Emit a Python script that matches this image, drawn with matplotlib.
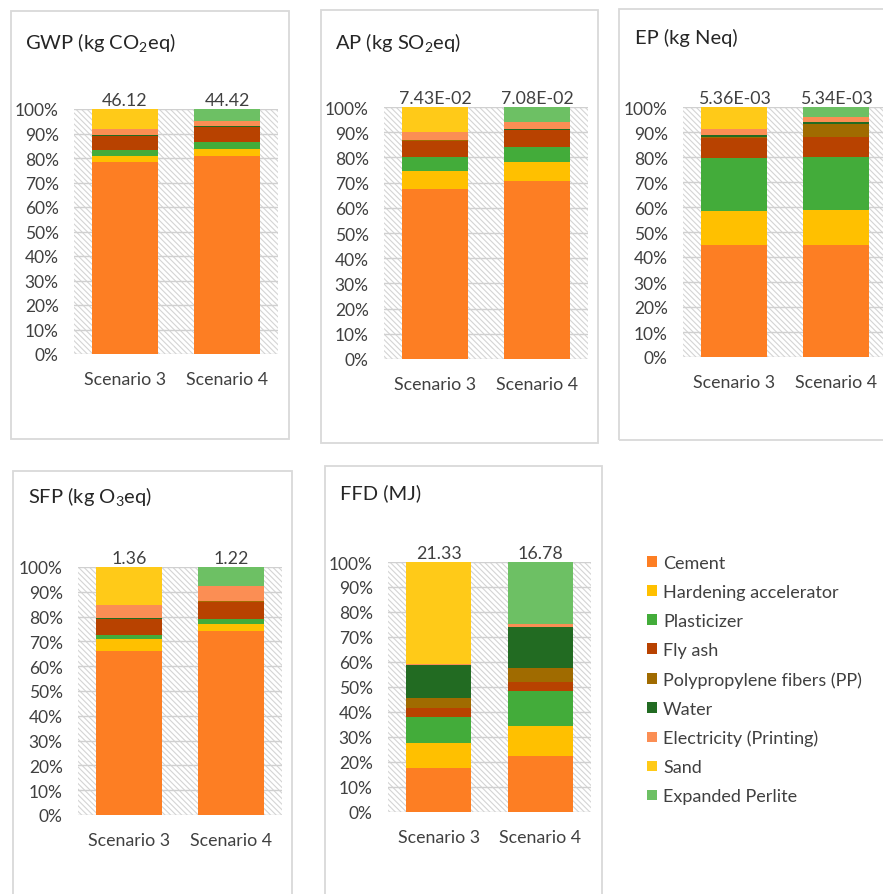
#!/usr/bin/env python3
import matplotlib

matplotlib.use("Agg")
import matplotlib.pyplot as plt
import numpy as np
from matplotlib.patches import Patch, Rectangle

# contribution (%) of each component, scenario 3 / scenario 4
components = [
    "Cement",
    "Hardening accelerator",
    "Plasticizer",
    "Fly ash",
    "Polypropylene fibers (PP)",
    "Water",
    "Electricity (Printing)",
    "Sand",
    "Expanded Perlite",
]
scenarios = ["Scenario 3", "Scenario 4"]

gwp_s3 = [78.2, 2.5, 2.4, 5.7, 0.2, 0.2, 2.5, 8.3, 0.0]
gwp_s4 = [81.0, 2.7, 2.7, 6.1, 0.2, 0.2, 2.3, 0.0, 4.8]
ap_s3 = [67.6, 7.2, 5.4, 6.3, 0.3, 0.3, 2.8, 10.1, 0.0]
ap_s4 = [70.8, 7.5, 5.8, 6.7, 0.2, 0.2, 2.9, 0.0, 5.9]
ep_s3 = [44.8, 13.6, 21.1, 8.2, 0.4, 0.8, 2.4, 8.7, 0.0]
ep_s4 = [44.8, 14.1, 21.1, 8.0, 5.1, 0.9, 2.1, 0.0, 3.9]
sfp_s3 = [66.1, 4.7, 1.9, 6.2, 0.3, 0.2, 5.3, 15.3, 0.0]
sfp_s4 = [74.0, 3.0, 1.9, 7.0, 0.3, 0.2, 5.8, 0.0, 7.8]
ffd_s3 = [17.8, 9.7, 10.7, 3.3, 4.0, 13.3, 0.3, 40.9, 0.0]
ffd_s4 = [22.5, 11.9, 14.1, 3.6, 5.7, 16.4, 0.9, 0.0, 24.9]

totals_gwp = ["46.12", "44.42"]
totals_ap = ["7.43E-02", "7.08E-02"]
totals_ep = ["5.36E-03", "5.34E-03"]
totals_sfp = ["1.36", "1.22"]
totals_ffd = ["21.33", "16.78"]

colors = [
    "#FD7E23",  # cement
    "#FFC000",  # hardening accelerator
    "#43AC3A",  # plasticizer
    "#B84200",  # fly ash
    "#A06B00",  # PP
    "#226B22",  # water
    "#FB8E54",  # electricity
    "#FFCA18",  # sand
    "#6DC064",  # expanded perlite
]

W, H = 883, 895
TXT = "#404040"


def px_axes(fig, x0, y0, x1, y1):
    return fig.add_axes([x0 / W, 1 - y1 / H, (x1 - x0) / W, (y1 - y0) / H])


def px_box(fig, x0, y0, x1, y1):
    fig.patches.append(
        Rectangle((x0 / W, 1 - y1 / H), (x1 - x0) / W, (y1 - y0) / H,
                  transform=fig.transFigure, fill=False,
                  edgecolor="#D9D9D9", linewidth=1.3, zorder=0)
    )


def draw_panel(ax, s3, s4, totals):
    data = np.array([s3, s4]) / 100.0
    x = np.arange(len(scenarios))
    ax.add_patch(Rectangle((0, 0), 1, 1, transform=ax.transAxes,
                           facecolor="white", edgecolor="#D4D4D4",
                           hatch="\\\\\\\\\\\\", linewidth=0, zorder=0))
    bottom = np.zeros(len(scenarios))
    for i, c in enumerate(colors):
        ax.bar(x, data[:, i], bottom=bottom, width=0.64, color=c,
               linewidth=0, zorder=3)
        bottom += data[:, i]
    for xi, t in zip(x, totals):
        ax.annotate(t, (xi, 1.0), xytext=(0, 1), textcoords="offset points",
                    ha="center", va="bottom", fontsize=12.8, color=TXT)
    ax.set_xlim(-0.5, 1.5)
    ax.set_ylim(0, 1)
    ax.set_yticks(np.arange(0, 1.01, 0.1))
    ax.set_yticklabels([f"{v}%" for v in range(0, 101, 10)])
    ax.set_xticks(x)
    ax.set_xticklabels(scenarios)
    ax.tick_params(axis="y", length=0, pad=11, labelsize=12.5, labelcolor=TXT)
    ax.tick_params(axis="x", length=0, pad=12, labelsize=12.8, labelcolor=TXT)
    ax.grid(axis="y", color="#D0D0D0", linewidth=1.0, zorder=1)
    ax.set_axisbelow(True)
    for s in ax.spines.values():
        s.set_visible(False)


def main() -> None:
    plt.rcParams["font.family"] = ["Lato", "DejaVu Sans"]
    plt.rcParams["mathtext.fontset"] = "custom"
    plt.rcParams["mathtext.rm"] = "Lato"
    plt.rcParams["mathtext.it"] = "Lato:italic"
    plt.rcParams["hatch.linewidth"] = 0.8

    fig = plt.figure(figsize=(W / 100, H / 100), dpi=100)

    # panel frames
    px_box(fig, 11, 12, 289, 440)
    px_box(fig, 321, 11, 598, 444)
    px_box(fig, 619, 10, 892, 441)
    px_box(fig, 13, 472, 292, 900)
    px_box(fig, 325, 467, 602, 900)

    panels = [
        ((74, 110, 278, 355), gwp_s3, gwp_s4, totals_gwp,
         "GWP (kg CO$_2$eq)", (25, 42)),
        ((384, 108, 588, 360), ap_s3, ap_s4, totals_ap,
         "AP (kg SO$_2$eq)", (335, 42)),
        ((683, 108, 887, 358), ep_s3, ep_s4, totals_ep,
         "EP (kg Neq)", (635, 38)),
        ((78, 568, 282, 816), sfp_s3, sfp_s4, totals_sfp,
         "SFP (kg O$_3$eq)", (28, 497)),
        ((388, 563, 591, 813), ffd_s3, ffd_s4, totals_ffd,
         "FFD (MJ)", (340, 493)),
    ]
    for (x0, y0, x1, y1), s3, s4, tot, title, (tx, ty) in panels:
        ax = px_axes(fig, x0, y0, x1, y1)
        draw_panel(ax, s3, s4, tot)
        fig.text(tx / W, 1 - ty / H, title, fontsize=14.5, color="#262626",
                 ha="left", va="center")

    handles = [Patch(facecolor=c, edgecolor="none") for c in colors]
    fig.legend(handles, components, loc="upper left",
               bbox_to_anchor=(640 / W, 1 - 549 / H), frameon=False,
               borderaxespad=0, fontsize=13, handlelength=0.55,
               handleheight=0.55, handletextpad=0.33, labelspacing=0.72,
               labelcolor=TXT)

    fig.savefig("out.png", dpi=100)
    plt.close(fig)


if __name__ == "__main__":
    main()
